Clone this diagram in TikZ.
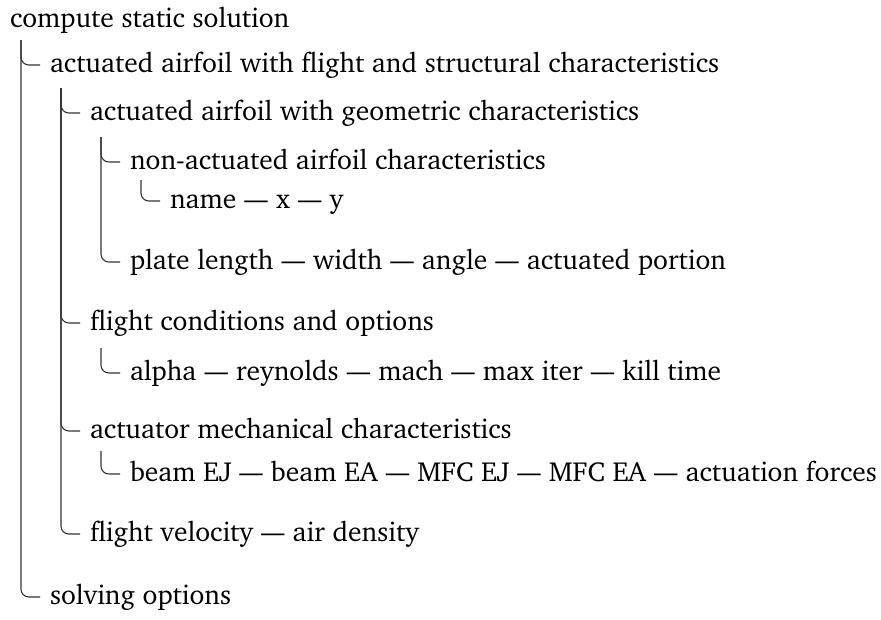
\documentclass[tikz,border=0pt]{standalone}
\usepackage[T1]{fontenc}
\usepackage{charter}
\usetikzlibrary{calc}
\newcommand\dd{\hspace{3.3pt}\scalebox{0.85}[1]{\textemdash}\hspace{3.3pt}}
\begin{document}
\begin{tikzpicture}[x=0.4065pt,y=-0.4065pt,
  item/.style={anchor=base west,inner sep=0pt,outer sep=0pt,font=\fontsize{11.2}{13}\selectfont},
  branch/.style={draw=black!80,line width=0.45pt,rounded corners=3.2pt}]
\useasboundingbox (0,0) rectangle (881,619);
\node[item] (n0) at (10,28) {compute static solution};
\node[item] (n1) at (50,72) {actuated airfoil with flight and structural characteristics};
\node[item] (n2) at (90,120) {actuated airfoil with geometric characteristics};
\node[item] (n3) at (130,169) {non-actuated airfoil characteristics};
\node[item] (n4) at (170,208) {name\dd x\dd y};
\node[item] (n5) at (130,269) {plate length\dd width\dd angle\dd actuated portion};
\node[item] (n6) at (90,330) {flight conditions and options};
\node[item] (n7) at (130,380) {alpha\dd reynolds\dd mach\dd max iter\dd kill time};
\node[item] (n8) at (90,438) {actuator mechanical characteristics};
\node[item] (n9) at (130,481) {beam EJ\dd beam EA\dd MFC EJ\dd MFC EA\dd actuation forces};
\node[item] (n10) at (90,541) {flight velocity\dd air density};
\node[item] (n11) at (50,604) {solving options};
% connectors
\draw[branch] ($(n0.base west)+(11,12)$) |- ($(n1.base west)+(-10,-7)$);
\draw[branch] ($(n0.base west)+(11,12)$) |- ($(n11.base west)+(-10,-7)$);
\draw[branch] ($(n1.base west)+(11,16)$) |- ($(n2.base west)+(-10,-7)$);
\draw[branch] ($(n1.base west)+(11,16)$) |- ($(n6.base west)+(-10,-7)$);
\draw[branch] ($(n1.base west)+(11,16)$) |- ($(n8.base west)+(-10,-7)$);
\draw[branch] ($(n1.base west)+(11,16)$) |- ($(n10.base west)+(-10,-7)$);
\draw[branch] ($(n2.base west)+(11,17)$) |- ($(n3.base west)+(-10,-7)$);
\draw[branch] ($(n2.base west)+(11,17)$) |- ($(n5.base west)+(-10,-7)$);
\draw[branch] ($(n3.base west)+(11,11)$) |- ($(n4.base west)+(-10,-7)$);
\draw[branch] ($(n6.base west)+(11,18)$) |- ($(n7.base west)+(-10,-7)$);
\draw[branch] ($(n8.base west)+(11,13)$) |- ($(n9.base west)+(-10,-7)$);
\end{tikzpicture}
\end{document}
